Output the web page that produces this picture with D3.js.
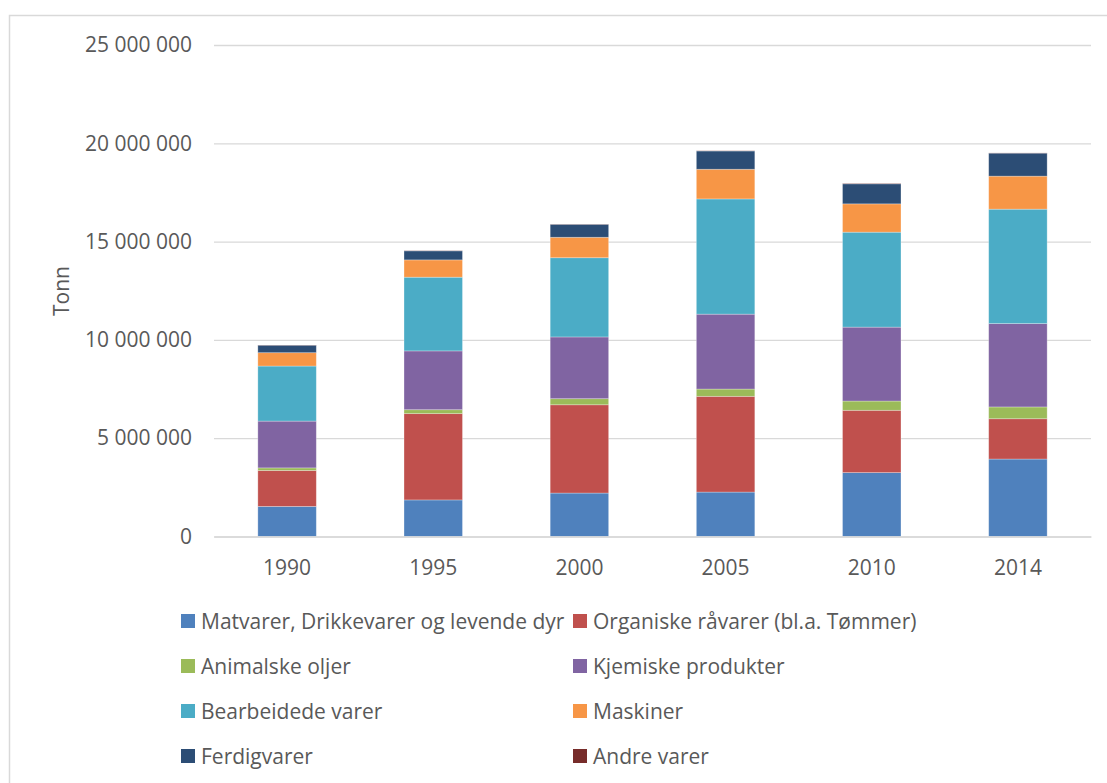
<!DOCTYPE html>
<html>
<head>
<meta charset="utf-8">
<script src="https://cdn.jsdelivr.net/npm/d3@7"></script>
<style>
  html, body { margin: 0; padding: 0; background: #fff; }
  svg { display: block; }
  text { font-family: "Open Sans", "Liberation Sans", sans-serif; fill: #595959; }
</style>
</head>
<body>
<svg id="chart" width="1107" height="783"></svg>
<script>
// Years on the category axis
const years = ["1990", "1995", "2000", "2005", "2010", "2014"];

// Series (tonn), one array per commodity group
const matvarer   = [1530000, 1860000, 2210000, 2260000, 3250000, 3940000];
const organiske  = [1830000, 4390000, 4490000, 4870000, 3170000, 2050000];
const animalske  = [ 130000,  200000,  310000,  370000,  470000,  600000];
const kjemiske   = [2380000, 2990000, 3140000, 3810000, 3760000, 4240000];
const bearbeidede= [2800000, 3750000, 4030000, 5860000, 4830000, 5820000];
const maskiner   = [ 680000,  880000, 1040000, 1510000, 1440000, 1680000];
const ferdigvarer= [ 380000,  460000,  660000,  930000, 1020000, 1170000];
const andre      = [  10000,   10000,   10000,   10000,   20000,   10000];

const seriesNames = [
  "Matvarer, Drikkevarer og levende dyr",
  "Organiske råvarer (bl.a. Tømmer)",
  "Animalske oljer",
  "Kjemiske produkter",
  "Bearbeidede varer",
  "Maskiner",
  "Ferdigvarer",
  "Andre varer"
];
const seriesValues = [matvarer, organiske, animalske, kjemiske, bearbeidede, maskiner, ferdigvarer, andre];
const seriesColors = ["#4F81BD", "#C0504D", "#9BBB59", "#8064A2", "#4BACC6", "#F79646", "#2C4D75", "#772C2A"];

const yTicks = [0, 5000000, 10000000, 15000000, 20000000, 25000000];

const svg = d3.select("#chart");

// Outer chart frame
svg.append("rect")
  .attr("x", 9.5).attr("y", 15.5)
  .attr("width", 1200).attr("height", 900)
  .attr("fill", "none").attr("stroke", "#D9D9D9").attr("stroke-width", 1.5);

const x = d3.scaleBand().domain(years).range([214, 1091]).paddingInner(0.6).paddingOuter(0.3);
const y = d3.scaleLinear().domain([0, 25000000]).range([536.5, 45]);

const fmt = v => d3.format(",")(v).replace(/,/g, " ");

// Gridlines and value axis labels
const yAxis = d3.axisLeft(y).tickValues(yTicks).tickSize(-(1091 - 214)).tickFormat(fmt).tickPadding(22);
const gy = svg.append("g").attr("transform", "translate(214,0)").call(yAxis);
gy.select(".domain").remove();
gy.selectAll(".tick line").attr("stroke", "#D9D9D9").attr("stroke-width", 1.3);
gy.selectAll(".tick text").attr("font-size", 21).style("font-family", "'Open Sans', sans-serif").attr("fill", "#595959");

// Stacked bars
const table = years.map((yr, i) => {
  const row = { year: yr };
  seriesNames.forEach((n, k) => { row[n] = seriesValues[k][i]; });
  return row;
});
const stacked = d3.stack().keys(seriesNames)(table);

svg.append("g").selectAll("g")
  .data(stacked)
  .join("g")
  .attr("fill", (d, i) => seriesColors[i])
  .selectAll("rect")
  .data(d => d)
  .join("rect")
  .attr("x", d => x(d.data.year))
  .attr("width", x.bandwidth())
  .attr("y", d => y(d[1]))
  .attr("height", d => y(d[0]) - y(d[1]))
  .attr("stroke", "rgba(255,255,255,0.35)")
  .attr("stroke-width", 0.8);

// Category axis
const xAxis = d3.axisBottom(x).tickSize(0).tickPadding(24);
const gx = svg.append("g").attr("transform", "translate(0,536.5)").call(xAxis);
gx.select(".domain").attr("stroke", "#D9D9D9").attr("stroke-width", 1.3);
gx.selectAll(".tick text").attr("font-size", 21).style("font-family", "'Open Sans', sans-serif").attr("fill", "#595959");

// Axis title
svg.append("text")
  .attr("transform", "translate(61,291) rotate(-90)")
  .attr("text-anchor", "middle")
  .attr("dominant-baseline", "central")
  .attr("font-size", 21)
  .text("Tonn");

// Legend: two columns, four rows
const legendCols = [181, 573];
const legendRows = [621, 666, 711, 756];
const legend = svg.append("g").selectAll("g")
  .data(seriesNames)
  .join("g")
  .attr("transform", (d, i) => `translate(${legendCols[i % 2]},${legendRows[Math.floor(i / 2)]})`);
legend.append("rect")
  .attr("x", 0).attr("y", -7).attr("width", 14).attr("height", 14)
  .attr("fill", (d, i) => seriesColors[i]);
legend.append("text")
  .attr("x", 20).attr("y", 0)
  .attr("dominant-baseline", "central")
  .attr("font-size", 21)
  .text(d => d);
</script>
</body>
</html>
